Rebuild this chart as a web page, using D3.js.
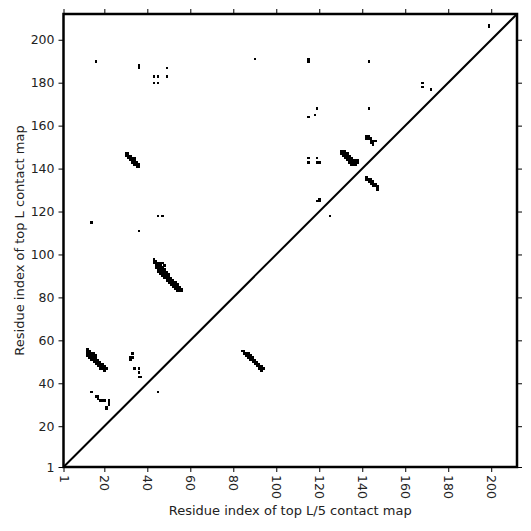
<!DOCTYPE html>
<html><head><meta charset="utf-8">
<script src="https://cdn.jsdelivr.net/npm/d3@7"></script>
<style>body{margin:0;background:#fff}svg{display:block}text{font-family:"DejaVu Sans",sans-serif;fill:#222}</style>
</head><body><div id="c"></div>
<script>
const L = 212;
const tickValues = [1,20,40,60,80,100,120,140,160,180,200];
const xLabel = "Residue index of top L/5 contact map";
const yLabel = "Residue index of top L contact map";
// contacts: [x residue, y residue]
const isolatedContacts = [
  [16,190],[36,187],[36,188],[49,187],[43,183],[45,183],[49,183],[43,180],[45,180],
  [90,191],[115,191],[115,190],[143,190],[119,168],[118,165],[115,164],[143,168],
  [115,145],[119,145],[115,143],[119,143],[120,143],[119,125],[120,125],[120,126],[125,118],
  [168,180],[168,178],[172,177],[199,207],[199,206],
  [14,115],[36,111],[45,118],[47,118],
  [33,54],[32,52],[33,52],[32,51],[34,47],[36,47],[36,45],[36,43],[37,43],
  [14,36],[45,36],[16,34],[17,34],[17,33],[18,32],[19,32],[20,32],[22,32],[22,31],[22,30],[21,29],[21,28]
];
// bands: rows of [y, [x...]]
const bandA = [[147,[30,31]],[146,[30,31,32]],[145,[31,32,33,34]],[144,[32,33,34]],[143,[33,34,35]],[142,[34,35,36]],[141,[35,36]]];
const bandB = [[98,[43]],[97,[43,44]],[96,[43,44,45,46,47]],[95,[44,45,46,48]],[94,[44,45,46,47]],[93,[45,46,47,48]],[92,[45,46,47,48,49]],[91,[46,47,48,49,50]],[90,[47,48,49,50]],[89,[48,49,50,51]],[88,[49,50,51,52]],[87,[50,51,52,53]],[86,[51,52,53,54]],[85,[52,53,54,55]],[84,[53,54,55,56]],[83,[54,55,56]]];
const bandC = [[56,[12]],[55,[12,13]],[54,[12,13,14,15]],[53,[12,13,14,15,16]],[52,[13,14,15,16]],[51,[14,15,16,17]],[50,[15,16,17,18]],[49,[16,17,18,19]],[48,[17,18,19,20]],[47,[18,19,20,21]],[46,[20]]];
const bandD = [[148,[130,131,132]],[147,[130,131,132,133]],[146,[131,132,133,134]],[145,[132,133,134,135]],[144,[133,134,135,136,137,138]],[143,[134,135,136,137,138]],[142,[135,136,137]]];
const bandE = [[155,[142,143]],[154,[142,143,144]],[153,[144,145,146]],[152,[144,145]],[151,[145]]];
const bandF = [[136,[142]],[135,[142,143,144]],[134,[143,144,145]],[133,[144,145,146]],[132,[145,146,147]],[131,[147]],[130,[147]]];
const bandG = [[55,[84,85]],[54,[85,86,87]],[53,[86,87,88]],[52,[87,88,89]],[51,[88,89,90]],[50,[89,90,91]],[49,[90,91,92]],[48,[91,92,93]],[47,[92,93,94]],[46,[93]]];

const contacts = isolatedContacts.slice();
[bandA,bandB,bandC,bandD,bandE,bandF,bandG].forEach(b=>b.forEach(([yy,xs])=>xs.forEach(xx=>contacts.push([xx,yy]))));

const W=531,H=531, mLeft=63.5, mRight=517, mTop=14, mBottom=467;
const svg=d3.select("#c").append("svg").attr("width",W).attr("height",H);
const x=d3.scaleLinear().domain([1,L]).range([mLeft,mRight]);
const y=d3.scaleLinear().domain([1,L]).range([mBottom,mTop]);
const cw = x(2)-x(1), ch = y(1)-y(2);

svg.append("g").attr("shape-rendering","crispEdges").selectAll("rect").data(contacts).join("rect")
  .attr("x",d=>x(d[0])-cw/2).attr("y",d=>y(d[1])-ch/2)
  .attr("width",cw+0.3).attr("height",ch+0.3).attr("fill","#000");

svg.append("line").attr("x1",x(1)).attr("y1",y(1)).attr("x2",x(L)).attr("y2",y(L))
  .attr("stroke","#000").attr("stroke-width",2);

const fs=12.5;
const gx=svg.append("g").attr("transform",`translate(0,${mBottom})`)
  .call(d3.axisBottom(x).tickValues(tickValues).tickSize(5).tickFormat(d3.format("d")));
gx.select(".domain").remove();
gx.selectAll("text").attr("transform","rotate(90)").attr("text-anchor","start")
  .attr("x",8).attr("y",0).attr("dy","0.35em").style("font-size",fs+"px").attr("fill","#222");
const gy=svg.append("g").attr("transform",`translate(${mLeft},0)`)
  .call(d3.axisLeft(y).tickValues(tickValues).tickSize(5).tickFormat(d3.format("d")));
gy.select(".domain").remove();
gy.selectAll("text").style("font-size",fs+"px").attr("x",-9).attr("fill","#222");
const gt=svg.append("g").attr("transform",`translate(0,${mTop})`)
  .call(d3.axisTop(x).tickValues(tickValues).tickSize(5).tickFormat(""));
gt.select(".domain").remove();
const gr=svg.append("g").attr("transform",`translate(${mRight},0)`)
  .call(d3.axisRight(y).tickValues(tickValues).tickSize(5).tickFormat(""));
gr.select(".domain").remove();
svg.selectAll(".tick line").attr("stroke","#000").attr("stroke-width",1);

svg.append("rect").attr("x",mLeft).attr("y",mTop).attr("width",mRight-mLeft).attr("height",mBottom-mTop)
  .attr("fill","none").attr("stroke","#000").attr("stroke-width",2.5);

svg.append("text").attr("x",(mLeft+mRight)/2).attr("y",515).attr("text-anchor","middle")
  .style("font-size","13px").text(xLabel);
svg.append("text").attr("transform",`translate(24,${(mTop+mBottom)/2}) rotate(-90)`).attr("text-anchor","middle")
  .style("font-size","13px").text(yLabel);
</script></body></html>
